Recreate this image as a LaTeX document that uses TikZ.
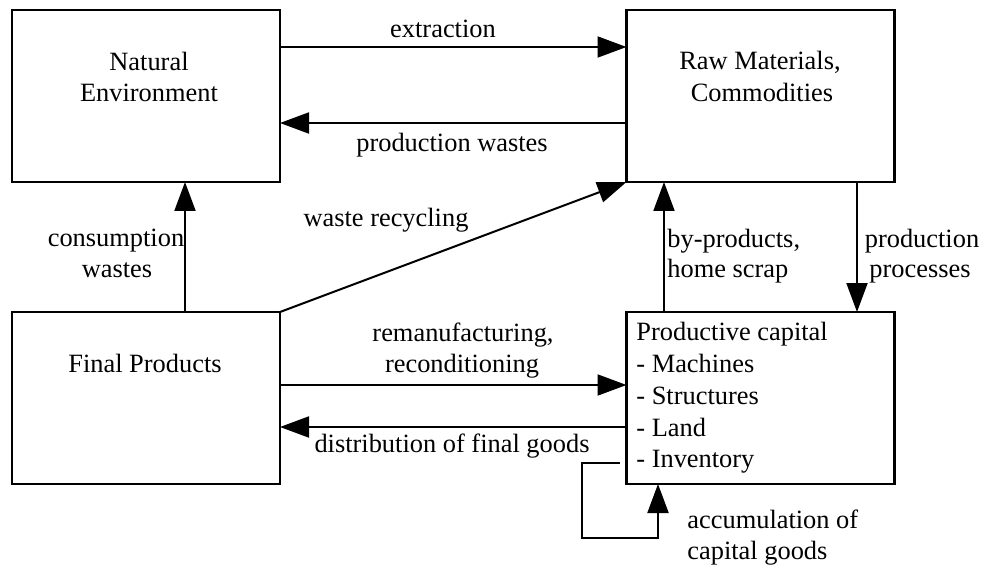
\documentclass[tikz,border=0pt]{standalone}
\usepackage{fontspec}
\setmainfont{Liberation Serif}
\usetikzlibrary{arrows.meta}
\begin{document}
\begin{tikzpicture}[x=0.5pt,y=-0.5pt,
  box/.style={draw,line width=1.3pt,inner sep=0pt,outer sep=0pt,minimum width=134pt,minimum height=86pt},
  lbl/.style={inner sep=0pt,anchor=base,font=\fontsize{13.2pt}{15.5pt}\selectfont},
  lblw/.style={lbl,anchor=base west},
  arr/.style={line width=1pt,-{Triangle[length=14.5pt,width=10.5pt]}},
  conn/.style={line width=1pt}]
\useasboundingbox (0,0) rectangle (986,567);
% boxes
\node[box] (ne) at (146,96) {};
\node[box] (raw) at (760.5,96) {};
\node[box] (fp) at (146,398) {};
\node[box] (pc) at (760.5,398) {};
% box texts
\node[lbl] (ne1) at (149,71) {Natural};
\node[lbl] (ne2) at (149,102) {Environment};
\node[lbl] (raw1) at (760,70) {Raw Materials,};
\node[lbl] (raw2) at (762,102) {Commodities};
\node[lbl] (fp1) at (145,372) {Final Products};
\node[lblw] (pc1) at (636,340) {Productive capital};
\node[lblw] (pc2) at (636,372) {- Machines};
\node[lblw] (pc3) at (636,404) {- Structures};
\node[lblw] (pc4) at (636,436) {- Land};
\node[lblw] (pc5) at (636,467) {- Inventory};
% helper coordinates
\coordinate (yext) at (0,47);
\coordinate (ypw) at (0,123);
\coordinate (xcw) at (185,0);
\coordinate (xbp) at (664,0);
\coordinate (xpp) at (857,0);
\coordinate (yrm) at (0,385);
\coordinate (ydf) at (0,427);
\coordinate (accs) at (620,463);
\coordinate (acc1) at (582,538);
\coordinate (xacc) at (658,0);
% connectors
\draw[arr] (ne.east |- yext) -- (raw.west |- yext);
\draw[arr] (raw.west |- ypw) -- (ne.east |- ypw);
\draw[arr] (fp.north -| xcw) -- (ne.south -| xcw);
\draw[arr] (fp.north east) -- (raw.south west);
\draw[arr] (pc.north -| xbp) -- (raw.south -| xbp);
\draw[arr] (raw.south -| xpp) -- (pc.north -| xpp);
\draw[arr] (fp.east |- yrm) -- (pc.west |- yrm);
\draw[arr] (pc.west |- ydf) -- (fp.east |- ydf);
\draw[arr] (accs) -| (acc1) -| (pc.south -| xacc);
% connector labels
\node[lbl] (l1) at (443,38) {extraction};
\node[lbl] (l2) at (452,152) {production wastes};
\node[lbl] (l3a) at (116,247) {consumption};
\node[lbl] (l3b) at (117,278) {wastes};
\node[lbl] (l4) at (386,227) {waste recycling};
\node[lblw] (l5a) at (667,248) {by-products,};
\node[lblw] (l5b) at (667,278) {home scrap};
\node[lbl] (l6a) at (922,248) {production};
\node[lbl] (l6b) at (920,278) {processes};
\node[lbl] (l7a) at (463,341) {remanufacturing,};
\node[lbl] (l7b) at (462,372) {reconditioning};
\node[lbl] (l8) at (452,452) {distribution of final goods};
\node[lblw] (l9a) at (687,528) {accumulation of};
\node[lblw] (l9b) at (687,559) {capital goods};
\end{tikzpicture}
\end{document}
